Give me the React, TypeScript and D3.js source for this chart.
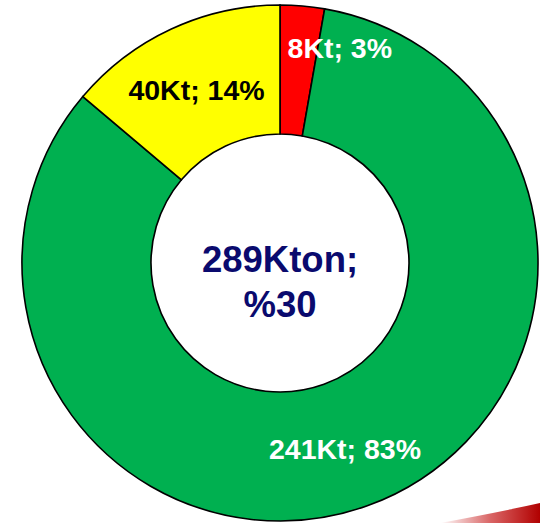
import React from "react";
import * as d3 from "d3";

// slice data, clockwise from 12 o'clock
const categories = ["red", "main", "yellow"];
const values = [8, 241, 40];
const sliceLabels = ["8Kt; 3%", "241Kt; 83%", "40Kt; 14%"];
const sliceColors = ["#FF0000", "#00B050", "#FFFF00"];
const labelColors = ["#FFFFFF", "#FFFFFF", "#000000"];
// nudge from the arc centroid to the label baseline
const labelNudge: [number, number][] = [[43, -12], [-1, 14], [-2, 12.5]];
const centerLines = ["289Kton;", "%30"];

const W = 540;
const H = 523;
const cx = 280;
const cy = 263;
const outerR = 258;
const innerR = 129;

export default function App() {
  const pie = d3.pie<number>().sort(null).value((d) => d);
  const arcs = pie(values);
  const arc = d3.arc<d3.PieArcDatum<number>>().innerRadius(innerR).outerRadius(outerR);

  return (
    <svg
      width={W}
      height={H}
      style={{ position: "absolute", left: 0, top: 0, fontFamily: "'Liberation Sans', Arial, sans-serif" }}
    >
      <defs>
        <linearGradient id="streak" x1="0" y1="0" x2="1" y2="0">
          <stop offset="0" stopColor="#C00000" stopOpacity="0" />
          <stop offset="0.5" stopColor="#C00000" stopOpacity="0.6" />
          <stop offset="1" stopColor="#B00000" stopOpacity="1" />
        </linearGradient>
      </defs>
      <path d="M440,523 Q500,512 540,503 L540,523 Z" fill="url(#streak)" />
      <g transform={`translate(${cx},${cy})`}>
        {arcs.map((a, i) => (
          <path key={categories[i]} d={arc(a) || ""} fill={sliceColors[i]} stroke="#000" strokeWidth={1.6} />
        ))}
        {arcs.map((a, i) => {
          const [x, y] = arc.centroid(a);
          return (
            <text
              key={"l" + i}
              x={x + labelNudge[i][0]}
              y={y + labelNudge[i][1]}
              textAnchor="middle"
              fontSize={28.5}
              fontWeight="bold"
              fill={labelColors[i]}
            >
              {sliceLabels[i]}
            </text>
          );
        })}
        {centerLines.map((t, i) => (
          <text
            key={t}
            x={0}
            y={9 + i * 45}
            textAnchor="middle"
            fontSize={36.5}
            fontWeight="bold"
            fill="#0A0A6E"
          >
            {t}
          </text>
        ))}
      </g>
    </svg>
  );
}
